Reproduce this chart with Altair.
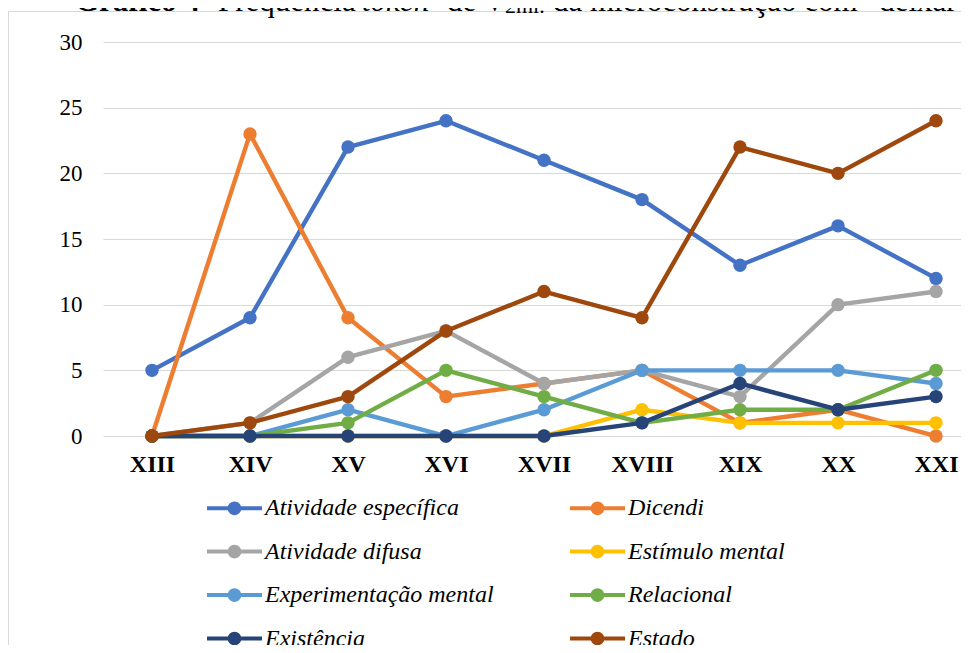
import altair as alt
import pandas as pd

centuries = ["XIII", "XIV", "XV", "XVI", "XVII", "XVIII", "XIX", "XX", "XXI"]
series_names = ["Atividade específica", "Dicendi", "Atividade difusa", "Estímulo mental",
                "Experimentação mental", "Relacional", "Existência", "Estado"]
colors = ["#4472C4", "#ED7D31", "#A5A5A5", "#FFC000", "#5B9BD5", "#70AD47", "#264478", "#9E480E"]

atividade_especifica = [5, 9, 22, 24, 21, 18, 13, 16, 12]
dicendi = [0, 23, 9, 3, 4, 5, 1, 2, 0]
atividade_difusa = [0, 1, 6, 8, 4, 5, 3, 10, 11]
estimulo_mental = [0, 0, 0, 0, 0, 2, 1, 1, 1]
experimentacao_mental = [0, 0, 2, 0, 2, 5, 5, 5, 4]
relacional = [0, 0, 1, 5, 3, 1, 2, 2, 5]
existencia = [0, 0, 0, 0, 0, 1, 4, 2, 3]
estado = [0, 1, 3, 8, 11, 9, 22, 20, 24]

all_values = [atividade_especifica, dicendi, atividade_difusa, estimulo_mental,
              experimentacao_mental, relacional, existencia, estado]

rows = []
for name, vals in zip(series_names, all_values):
    for c, v in zip(centuries, vals):
        rows.append({"serie": name, "century": c, "value": v})
df = pd.DataFrame(rows)

FONT = "Liberation Serif"

x_enc = alt.X("century:N", sort=centuries,
              scale=alt.Scale(type="point", range=[0, 882], padding=0.5),
              axis=alt.Axis(title=None, labelAngle=0, labelFont=FONT, labelFontSize=24,
                            labelFontWeight="bold", labelColor="#000000", domain=False,
                            ticks=False, tickSize=0, labelPadding=16, grid=False))
y_enc = alt.Y("value:Q", scale=alt.Scale(domain=[0, 30], nice=False),
              axis=alt.Axis(title=None, values=[0, 5, 10, 15, 20, 25, 30], labelFont=FONT,
                            labelFontSize=23, labelColor="#000000", domain=False, ticks=False,
                            tickSize=0, labelPadding=21, gridColor="#D9D9D9", gridWidth=1))

sym_path = ("M-1,-0.075L1,-0.075L1,0.075L-1,0.075Z "
            "M0.25,0A0.25,0.25 0 1 1 -0.25,0A0.25,0.25 0 1 1 0.25,0Z")

legend = alt.Legend(title=None, orient="none", legendX=104, legendY=438.5, columns=2,
                    direction="horizontal",
                    symbolType=sym_path, symbolSize=3025, symbolStrokeWidth=0,
                    symbolOpacity=1, labelFont=FONT, labelFontStyle="italic",
                    labelFontSize=24, labelColor="#000000", labelOffset=3,
                    rowPadding=3.5, columnPadding=76, labelLimit=500)

color_enc = alt.Color("serie:N", scale=alt.Scale(domain=series_names, range=colors),
                      legend=legend)

frame = alt.Chart(pd.DataFrame({"k": [0]})).mark_rect(
    fillOpacity=0, stroke="#D9D9D9", strokeWidth=1
).encode(x=alt.value(-94.5), x2=alt.value(900), y=alt.value(-30.5), y2=alt.value(700))

layers = [frame]
for name, col in zip(series_names, colors):
    sub = alt.Chart(df).transform_filter(alt.datum.serie == name)
    layers.append(sub.mark_line(color=col, strokeWidth=4.4, strokeJoin="round",
                                strokeCap="round").encode(x=x_enc, y=y_enc))
    layers.append(sub.mark_point(filled=True, size=180, opacity=1).encode(
        x=x_enc, y=y_enc, color=color_enc))

one = pd.DataFrame({"k": [0]})
title_parts = [
    ("Gráfico 4-", -28, -31.5, 31, "bold", "normal"),
    ("Frequência", 115, -31.5, 31, "normal", "normal"),
    ("token", 259, -31.5, 31, "normal", "italic"),
    ("de V", 344, -31.5, 31, "normal", "normal"),
    ("2mi.", 402, -29, 22, "normal", "normal"),
    ("da microconstrução com “deixar”", 450, -31.5, 31, "normal", "normal"),
]
for txt, tx, ty, fs, fw, fst in title_parts:
    layers.append(alt.Chart(one).mark_text(
        text=txt, font=FONT, fontSize=fs, fontWeight=fw, fontStyle=fst,
        align="left", baseline="alphabetic", color="#000000"
    ).encode(x=alt.value(tx), y=alt.value(ty)))

chart = alt.layer(*layers).properties(
    width=858, height=394,
    padding={"left": 95, "top": 34, "right": 0, "bottom": 209},
    autosize=alt.AutoSizeParams(type="none"),
    background="#FFFFFF"
).configure_view(stroke=None).configure_legend(
    labelFont=FONT, labelFontStyle="italic", labelFontSize=24, labelColor="#000000"
).configure_axis(labelFont=FONT)

chart.save("out.html", embed_options={"renderer": "svg", "actions": False})
